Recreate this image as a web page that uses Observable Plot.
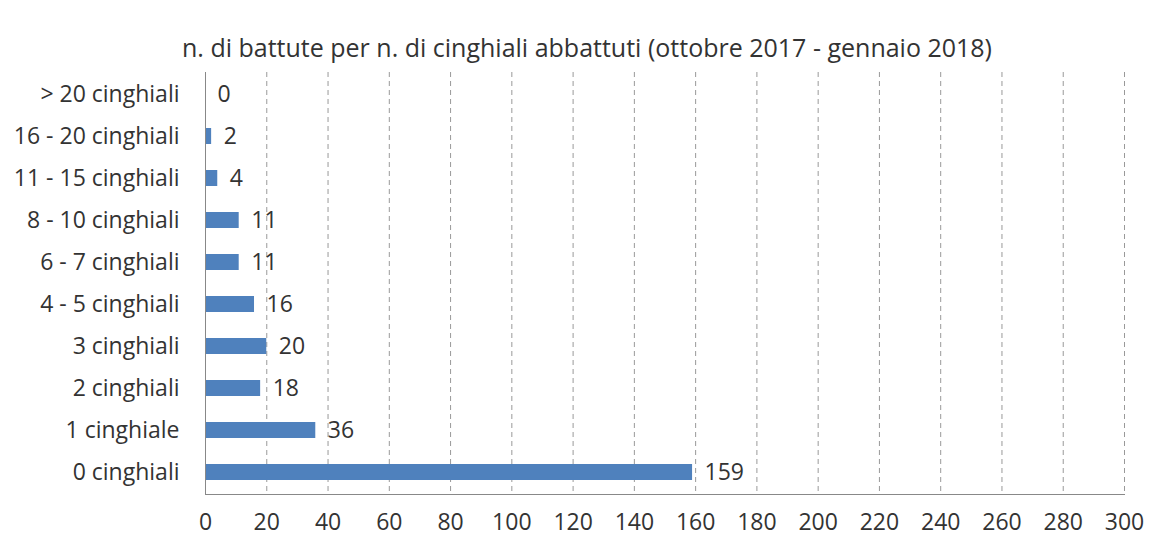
<!DOCTYPE html>
<html>
<head>
<meta charset="utf-8">
<script src="https://cdn.jsdelivr.net/npm/d3@7"></script>
<script src="https://cdn.jsdelivr.net/npm/@observablehq/plot@0.6"></script>
<style>
  body { margin: 0; background: #fff; }
  #title { font: 25px "Open Sans", sans-serif; height: 72px; line-height: 94px; color: #333; text-align: center; padding-left: 25px; box-sizing: border-box; width: 1149px; white-space: nowrap; overflow: hidden; }
</style>
</head>
<body>
<div id="title">n. di battute per n. di cinghiali abbattuti (ottobre 2017 - gennaio 2018)</div>
<div id="chart"></div>
<script>
const categories = ["> 20 cinghiali", "16 - 20 cinghiali", "11 - 15 cinghiali", "8 - 10 cinghiali", "6 - 7 cinghiali", "4 - 5 cinghiali", "3 cinghiali", "2 cinghiali", "1 cinghiale", "0 cinghiali"];
const values = [0, 2, 4, 11, 11, 16, 20, 18, 36, 159];
const xTicks = [0, 20, 40, 60, 80, 100, 120, 140, 160, 180, 200, 220, 240, 260, 280, 300];

const data = categories.map((c, i) => ({category: c, value: values[i]}));
const font = "'Open Sans', sans-serif";

const chart = Plot.plot({
  width: 1149,
  height: 468,
  marginLeft: 205,
  marginRight: 25,
  marginTop: 0,
  marginBottom: 46,
  style: {fontFamily: font, fontSize: "23px", color: "#333", background: "#fff"},
  x: {domain: [0, 300], ticks: xTicks, label: null},
  y: {domain: categories, padding: 0, label: null},
  marks: [
    Plot.ruleX(xTicks.filter(d => d > 0), {stroke: "#999", strokeDasharray: "5,4", strokeWidth: 1}),
    Plot.barX(data, {x: "value", y: "category", fill: "#4F81BD", insetTop: 13, insetBottom: 13}),
    Plot.ruleX([0], {stroke: "#888", strokeWidth: 1}),
    Plot.frame({anchor: "bottom", stroke: "#888", strokeWidth: 1}),
    Plot.axisX({ticks: xTicks, tickSize: 0, tickPadding: 19, fontSize: 23, fontFamily: font, fill: "#333", label: null}),
    Plot.axisY({tickSize: 0, tickPadding: 26, fontSize: 23, fontFamily: font, fill: "#333", label: null}),
    Plot.text(data, {x: "value", y: "category", text: d => String(d.value), dx: 12, textAnchor: "start", fontSize: 23, fontFamily: font, fill: "#333"})
  ]
});
document.getElementById("chart").appendChild(chart);
</script>
</body>
</html>
